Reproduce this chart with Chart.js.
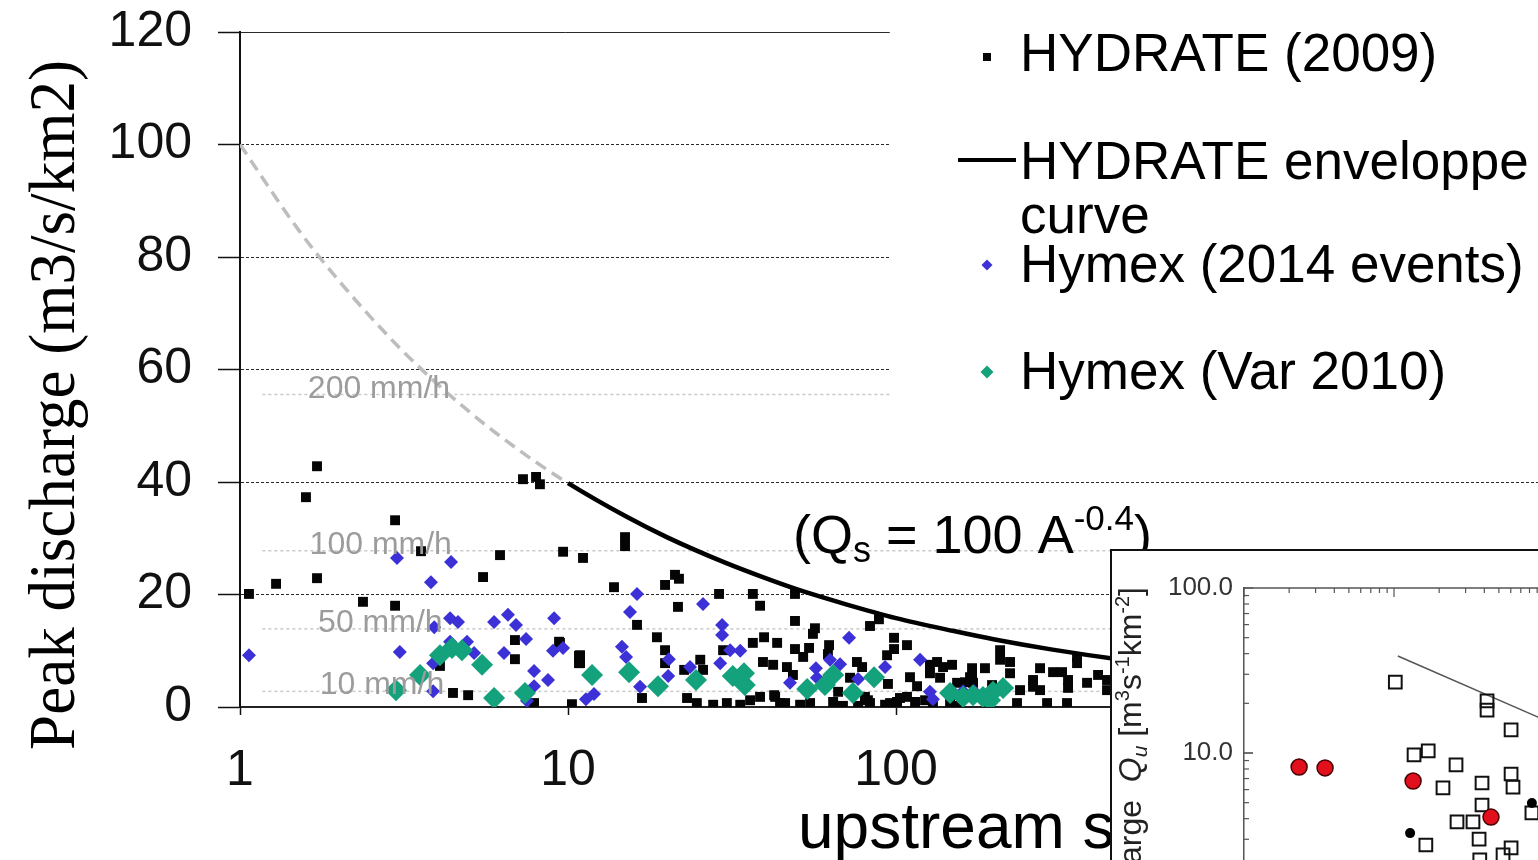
<!DOCTYPE html>
<html>
<head>
<meta charset="utf-8">
<script src="https://cdn.jsdelivr.net/npm/chart.js@4.4.1/dist/chart.umd.min.js"></script>
<style>
  html, body { margin: 0; padding: 0; background: #fff; overflow: hidden; width: 1538px; height: 860px; }
  #main { position: absolute; left: 0; top: 0; }
  #insetBox { position: absolute; left: 1110px; top: 549px; width: 460px; height: 400px;
              border: 2px solid #111; background: #fff; overflow: hidden; }
  #inset { position: absolute; left: 0; top: 0; }
</style>
</head>
<body>
<canvas id="main" width="1538" height="860"></canvas>
<div id="insetBox"><canvas id="inset" width="440" height="371"></canvas></div>
<script>
// ---- Axis ticks ----
const yTickValues = [0, 20, 40, 60, 80, 100, 120];
const yTickLabels = ['0', '20', '40', '60', '80', '100', '120'];
const xTickValues = [1, 10, 100, 1000];
const xTickLabels = ['1', '10', '100', '1000'];
const xMax = 9060;

// ---- HYDRATE (2009): upstream area (km2) and peak discharge (m3/s/km2) ----
const hydrateArea = [
  1.065, 1.288, 1.717, 1.589, 1.717, 2.371, 2.97, 2.97, 3.563, 5.507,
  6.204, 7.29, 7.99, 8.21, 9.66, 11.11, 4.07, 4.46, 4.96, 6.89,
  6.89, 7.88, 9.39, 10.28, 10.8, 10.8, 14.92, 14.92, 13.81, 19.76,
  21.19, 21.79, 28.87, 36.6, 49.2, 21.64, 38.5, 16.23, 49.2, 56.6,
  55.8, 83.3, 88.7, 18.67, 36.6, 43.4, 39.6, 9.45, 10.88, 10.88,
  19.76, 19.76, 29.7, 25.3, 25.8, 22.6, 39.3, 42.2, 46.5, 49.2,
  54.3, 62.5, 52.1, 62.0, 76.0, 78.8, 16.81, 23.06, 24.7, 27.7,
  30.5, 33.5, 35.9, 38.5, 42.8, 45.9, 51.0, 54.7, 64.3, 68.9,
  82.1, 98.6, 98.6, 108.0, 93.9, 72.4, 94.5, 110.3, 115.9, 126.9,
  133.4, 139.1, 148.2, 126.9, 48.5, 66.6, 42.5, 44.3, 76.6, 83.3,
  92.6, 100.7, 108.0, 114.3, 129.6, 146.1, 207.6, 207.6, 222.6, 356.3,
  356.3, 170.5, 186.7, 274.8, 301.1, 320.7, 222.6, 413.0, 136.2, 170.5,
  261.6, 274.8, 334.5, 334.5, 382.2, 439.8, 439.8, 238.8, 80.4, 102.8,
  122.6, 171.7, 196.2, 233.8, 288.7, 332.1, 95.9, 168.1, 261.6, 153.5,
  162.3, 153.5
];
const hydrateQ = [
  20.1, 21.9, 42.8, 37.3, 22.9, 18.7, 33.2, 18.0, 27.7, 23.1,
  27.0, 40.5, 40.9, 39.6, 27.6, 26.5, 7.3, 2.5, 2.1, 11.9,
  8.5, 0.7, 11.6, 0.5, 9.1, 7.8, 30.2, 28.6, 21.3, 21.7,
  23.5, 22.8, 20.1, 20.1, 20.1, 17.8, 18.0, 14.6, 15.3, 14.0,
  13.0, 14.4, 15.6, 12.4, 11.4, 11.4, 12.4, 11.4, 9.2, 7.8,
  10.1, 7.8, 10.1, 8.4, 6.6, 6.6, 8.0, 7.5, 7.1, 10.3,
  10.5, 11.0, 8.9, 9.4, 8.0, 7.1, 1.6, 1.6, 0.7, 0.4,
  0.7, 0.4, 1.2, 1.8, 1.8, 0.7, 0.4, 0.7, 0.9, 0.2,
  1.2, 12.3, 10.3, 11.0, 9.2, 5.2, 4.1, 5.3, 3.7, 7.5,
  8.0, 7.1, 7.5, 6.0, 5.7, 2.7, 2.1, 0.7, 0.2, 0.7,
  0.4, 0.9, 1.8, 0.9, 0.7, 0.7, 10.1, 8.4, 8.0, 8.9,
  7.8, 6.9, 6.9, 6.9, 6.2, 6.2, 6.0, 5.7, 5.2, 5.2,
  4.8, 3.0, 4.8, 3.4, 4.3, 4.8, 3.0, 3.0, 1.8, 1.6,
  1.2, 4.3, 3.9, 0.7, 0.7, 0.7, 0.7, 5.3, 3.6, 4.3,
  4.4, 0.2
];

// ---- Hymex (2014 events) ----
const hymex2014Area = [
  1.065, 3.01, 4.40, 3.82, 3.07, 3.91, 4.37, 4.62, 5.95, 6.56,
  6.94, 9.07, 7.45, 4.37, 4.92, 5.17, 6.38, 9.0, 9.66, 3.88,
  7.88, 8.69, 3.88, 7.88, 7.50, 11.34, 12.0, 16.23, 15.45, 25.8,
  29.5, 29.5, 14.6, 15.03, 20.3, 20.2, 31.2, 33.5, 23.55, 29.1,
  16.58, 47.5, 57.0, 62.9, 67.5, 57.4, 71.9, 76.6, 92.6, 118.4,
  126.9, 129.6, 160.1, 172.9
];
const hymex2014Q = [
  9.2, 26.5, 25.8, 22.2, 9.8, 14.2, 15.8, 15.1, 15.1, 16.4,
  14.6, 15.8, 12.1, 11.6, 11.6, 9.6, 9.6, 10.0, 10.5, 7.8,
  6.4, 4.8, 2.8, 3.7, 1.1, 1.4, 2.3, 20.1, 16.9, 18.3,
  14.6, 12.8, 10.7, 8.9, 8.5, 5.5, 10.1, 10.0, 7.1, 7.8,
  3.6, 4.3, 6.9, 8.4, 7.6, 5.2, 12.3, 5.0, 7.1, 8.4,
  2.7, 1.4, 2.8, 2.8
];

// ---- Hymex (Var 2010) ----
const var2010Area = [
  2.99, 3.54, 4.07, 4.43, 4.75, 5.47, 5.95, 7.39, 11.84, 15.35,
  18.81, 24.56, 31.8, 34.4, 34.6, 53.6, 60.7, 64.3, 73.9, 85.7,
  146.1, 160.1, 171.7, 184.1, 197.6, 212.0, 193.5
];
const var2010Q = [
  3.0, 5.7, 9.2, 10.5, 10.1, 7.5, 1.6, 2.5, 5.7, 6.2,
  3.7, 4.8, 5.5, 6.0, 3.9, 3.2, 3.9, 5.7, 2.5, 5.3,
  2.5, 1.8, 2.1, 1.8, 2.7, 3.4, 1.2
];

// ---- HYDRATE envelope curve, Qs = 100 A^-0.4 ----
const envelopeArea = [1, 1.5, 2, 3, 4, 5, 6, 7, 8, 10, 15, 20, 30, 40, 50, 70, 100, 150, 200, 300, 500, 700, 1000, 2000, 5000, 9000];
const envelopeQ    = [100, 85.0, 75.8, 64.4, 57.4, 52.5, 48.8, 45.9, 43.5, 39.8, 33.9, 30.2, 25.7, 22.9, 20.9, 18.3, 15.8, 13.5, 12.0, 10.2, 8.3, 7.3, 6.3, 4.8, 3.3, 2.6];

// ---- Rainfall-intensity reference lines (mm/h -> m3/s/km2 is /3.6) ----
const rainRates = [200, 100, 50, 10];
const rainLabels = ['200 mm/h', '100 mm/h', '50 mm/h', '10 mm/h'];
const rainLabelArea = [1.61, 1.63, 1.73, 1.75];
const rainLineStart = 1.17;

// ---- Inset panel (log-log) ----
const insetRedArea = [0.233, 0.347, 1.34, 4.43];
const insetRedQ    = [8.22, 8.12, 6.76, 4.09];
const insetDotArea = [1.28, 8.3];
const insetDotQ    = [3.27, 4.98];
const insetSquareArea = [1.02, 4.17, 4.17, 6.03, 1.36, 1.69, 2.59, 2.12, 3.86, 6.03,
                         6.21, 3.86, 8.3, 2.63, 3.36, 3.69, 1.63, 6.03, 5.33, 3.73];
const insetSquareQ    = [26.9, 20.7, 18.2, 13.8, 9.73, 10.3, 8.46, 6.14, 6.58, 7.46,
                         6.22, 4.84, 4.33, 3.82, 3.82, 3.01, 2.77, 2.66, 2.41, 2.25];
const insetLineArea = [1.06, 9.12];
const insetLineQ    = [38.7, 16.5];
const insetYTickValues = [10, 100];
const insetYTickLabels = ['10.0', '100.0'];

const pts = (xs, ys) => xs.map((x, i) => ({ x: x, y: ys[i] }));
const SANS = '"Liberation Sans", Arial, Helvetica, sans-serif';
const SERIF = '"Liberation Serif", "Times New Roman", serif';

const rainSets = rainRates.map((r, i) => ({
  label: rainLabels[i],
  type: 'line',
  data: [{ x: rainLineStart, y: r / 3.6 }, { x: xMax, y: r / 3.6 }],
  borderColor: '#c9c9c9',
  borderWidth: 1.5,
  borderDash: [3, 3],
  pointRadius: 0,
  order: 6
}));

const hydrateSet = {
  label: 'HYDRATE (2009)',
  data: pts(hydrateArea, hydrateQ),
  pointStyle: 'rect',
  pointRadius: 7,
  backgroundColor: '#050505',
  borderWidth: 0,
  order: 4
};
const envelopeSet = {
  label: 'HYDRATE enveloppe curve',
  type: 'line',
  data: pts(envelopeArea, envelopeQ),
  borderColor: '#000',
  borderWidth: 4.5,
  pointRadius: 0,
  cubicInterpolationMode: 'monotone',
  segment: {
    borderColor: c => (c.p1.parsed.x <= 10 ? '#bdbdbd' : '#000'),
    borderDash: c => (c.p1.parsed.x <= 10 ? [12, 7] : []),
    borderWidth: c => (c.p1.parsed.x <= 10 ? 3.5 : 4.5)
  },
  order: 3
};
const hymex2014Set = {
  label: 'Hymex (2014 events)',
  data: pts(hymex2014Area, hymex2014Q),
  pointStyle: 'rectRot',
  pointRadius: 7,
  backgroundColor: '#3b31d6',
  borderWidth: 0,
  order: 2
};
const var2010Set = {
  label: 'Hymex (Var 2010)',
  data: pts(var2010Area, var2010Q),
  pointStyle: 'rectRot',
  pointRadius: 11,
  backgroundColor: '#13a27c',
  borderWidth: 0,
  order: 1
};

// Keep the plot frame where the layout padding puts it (no extra room for end labels)
const noLabelPadding = ax => { ax.paddingTop = 0; ax.paddingBottom = 0; };

// Text overlays for the main panel: rainfall labels, formula, legend, axis titles
const mainDecorations = {
  id: 'mainDecorations',
  afterDraw(chart) {
    const ctx = chart.ctx;
    const xs = chart.scales.x, ys = chart.scales.y;
    ctx.save();

    // rainfall-intensity labels sitting on their lines
    ctx.fillStyle = '#9c9c9c';
    ctx.font = '32px ' + SANS;
    ctx.textAlign = 'left';
    ctx.textBaseline = 'alphabetic';
    rainRates.forEach((r, i) => {
      ctx.fillText(rainLabels[i], xs.getPixelForValue(rainLabelArea[i]), ys.getPixelForValue(r / 3.6) + 3);
    });

    // envelope formula
    ctx.fillStyle = '#000';
    let fx = 793;
    const fy = 553;
    const run = (t, size, dy) => {
      ctx.font = size + 'px ' + SANS;
      ctx.fillText(t, fx, fy + dy);
      fx += ctx.measureText(t).width;
    };
    run('(Q', 54, 0);
    run('s', 36, 9);
    run(' = 100 A', 54, 0);
    run('-0.4', 35, -23);
    run(')', 54, 0);

    // legend panel
    ctx.fillStyle = '#fff';
    ctx.fillRect(890, 0, 648, 440);
    ctx.fillStyle = '#000';
    ctx.font = '53px ' + SANS;
    ctx.textAlign = 'left';
    const tx = 1020;
    // HYDRATE (2009)
    ctx.fillStyle = hydrateSet.backgroundColor;
    ctx.fillRect(983, 53, 8, 8);
    ctx.fillStyle = '#000';
    ctx.fillText(hydrateSet.label, tx, 71);
    // envelope curve
    ctx.strokeStyle = '#000';
    ctx.lineWidth = 4;
    ctx.beginPath(); ctx.moveTo(958, 160); ctx.lineTo(1016, 160); ctx.stroke();
    ctx.fillText('HYDRATE enveloppe', tx, 179);
    ctx.fillText('curve', tx, 233);
    // Hymex diamonds
    const diamond = (cx, cy, h, color) => {
      ctx.fillStyle = color;
      ctx.beginPath();
      ctx.moveTo(cx, cy - h); ctx.lineTo(cx + h, cy); ctx.lineTo(cx, cy + h); ctx.lineTo(cx - h, cy);
      ctx.closePath(); ctx.fill();
    };
    diamond(987, 265, 5.5, hymex2014Set.backgroundColor);
    ctx.fillStyle = '#000';
    ctx.fillText(hymex2014Set.label, tx, 282);
    diamond(987, 372, 6.5, var2010Set.backgroundColor);
    ctx.fillStyle = '#000';
    ctx.fillText(var2010Set.label, tx, 389);

    // y-axis title (serif, rotated)
    ctx.save();
    ctx.translate(74, 405);
    ctx.rotate(-Math.PI / 2);
    ctx.font = '66px ' + SERIF;
    ctx.textAlign = 'center';
    const yTitle = 'Peak discharge (m3/s/km2)';
    const w = ctx.measureText(yTitle).width;
    ctx.scale(690 / w, 1);
    ctx.fillStyle = '#000';
    ctx.fillText(yTitle, 0, 0);
    ctx.restore();

    // x-axis title
    ctx.font = '64px ' + SANS;
    ctx.textAlign = 'left';
    ctx.fillStyle = '#000';
    ctx.fillText('upstream surface (km2)', 798, 848);

    ctx.restore();
  }
};

new Chart(document.getElementById('main'), {
  type: 'scatter',
  data: { datasets: [...rainSets, hydrateSet, envelopeSet, hymex2014Set, var2010Set] },
  options: {
    responsive: false,
    animation: false,
    devicePixelRatio: 1,
    layout: { autoPadding: false, padding: { top: 32, left: 0, right: 0, bottom: 0 } },
    plugins: { legend: { display: false }, tooltip: { enabled: false } },
    scales: {
      x: {
        type: 'logarithmic',
        min: 1,
        max: xMax,
        afterBuildTicks: ax => { ax.ticks = xTickValues.map(v => ({ value: v })); },
        afterFit: ax => { ax.height = 153; },
        ticks: {
          callback: (v, i) => xTickLabels[i],
          font: { family: SANS, size: 50 },
          color: '#111',
          padding: 26,
          maxRotation: 0,
          autoSkip: false
        },
        grid: { drawOnChartArea: false, tickLength: 8, tickColor: '#111', tickWidth: 1.5 },
        border: { color: '#222', width: 2 }
      },
      y: {
        min: 0,
        max: 120,
        afterBuildTicks: ax => { ax.ticks = yTickValues.map(v => ({ value: v })); },
        afterFit: ax => { ax.width = 240; noLabelPadding(ax); },
        ticks: {
          callback: (v, i) => yTickLabels[i],
          font: { family: SANS, size: 50 },
          color: '#111',
          padding: 26
        },
        grid: { color: '#2a2a2a', lineWidth: 1, tickLength: 22, tickColor: '#111', tickWidth: 1.5 },
        border: { color: '#111', width: 2, dash: c => (c.tick && c.tick.value === 120 ? [] : [3, 2]) }
      }
    }
  },
  plugins: [mainDecorations]
});

// ---- Inset panel ----
const insetDecorations = {
  id: 'insetDecorations',
  afterDraw(chart) {
    const ctx = chart.ctx;
    const a = chart.chartArea;
    const xs = chart.scales.x, ys = chart.scales.y;
    ctx.save();
    ctx.strokeStyle = '#555';
    ctx.lineWidth = 1.5;
    // top frame
    ctx.beginPath(); ctx.moveTo(a.left, a.top); ctx.lineTo(a.right, a.top); ctx.stroke();
    // inward ticks on the left frame
    ctx.lineWidth = 1.2;
    for (let e = 0; e < 2; e++) {
      for (let m = 1; m <= 10; m++) {
        const v = m * Math.pow(10, e);
        const y = ys.getPixelForValue(v);
        const len = (m === 1 || m === 10) ? 9 : 5;
        ctx.beginPath(); ctx.moveTo(a.left, y); ctx.lineTo(a.left + len, y); ctx.stroke();
      }
    }
    // inward ticks on the top frame
    for (let e = -1; e < 2; e++) {
      for (let m = 1; m <= 9; m++) {
        const v = m * Math.pow(10, e);
        if (v < xs.min || v > xs.max) continue;
        const x = xs.getPixelForValue(v);
        const len = m === 1 ? 9 : 5;
        ctx.beginPath(); ctx.moveTo(x, a.top); ctx.lineTo(x, a.top + len); ctx.stroke();
      }
    }
    // rotated y-axis title with italic symbol and exponents
    ctx.translate(29, 36);
    ctx.rotate(-Math.PI / 2);
    ctx.fillStyle = '#222';
    ctx.textBaseline = 'alphabetic';
    ctx.textAlign = 'left';
    const runs = [
      { t: 'Unit peak discharge  ', f: '32px ' + SANS, dy: 0 },
      { t: 'Q', f: 'italic 32px ' + SANS, dy: 0 },
      { t: 'u', f: 'italic 21px ' + SANS, dy: 6 },
      { t: ' [m', f: '32px ' + SANS, dy: 0 },
      { t: '3', f: '20px ' + SANS, dy: -12 },
      { t: 's', f: '32px ' + SANS, dy: 0 },
      { t: '-1', f: '20px ' + SANS, dy: -12 },
      { t: 'km', f: '32px ' + SANS, dy: 0 },
      { t: '-2', f: '20px ' + SANS, dy: -12 },
      { t: ']', f: '32px ' + SANS, dy: 0 }
    ];
    let total = 0;
    runs.forEach(r => { ctx.font = r.f; r.w = ctx.measureText(r.t).width; total += r.w; });
    let x = -total;
    runs.forEach(r => { ctx.font = r.f; ctx.fillText(r.t, x, r.dy); x += r.w; });
    ctx.restore();
  }
};

new Chart(document.getElementById('inset'), {
  type: 'scatter',
  data: {
    datasets: [
      { label: 'red', data: pts(insetRedArea, insetRedQ), pointStyle: 'circle', pointRadius: 8,
        backgroundColor: '#e2101c', borderColor: '#4a0000', borderWidth: 1.5, order: 1 },
      { label: 'dots', data: pts(insetDotArea, insetDotQ), pointStyle: 'circle', pointRadius: 5,
        backgroundColor: '#000', borderWidth: 0, order: 2 },
      { label: 'squares', data: pts(insetSquareArea, insetSquareQ), pointStyle: 'rect', pointRadius: 9,
        backgroundColor: 'rgba(255,255,255,0)', borderColor: '#111', borderWidth: 2, order: 3 },
      { label: 'envelope', type: 'line', data: pts(insetLineArea, insetLineQ), borderColor: '#555',
        borderWidth: 1.5, pointRadius: 0, order: 4 }
    ]
  },
  options: {
    responsive: false,
    animation: false,
    devicePixelRatio: 1,
    layout: { autoPadding: false, padding: { top: 37, left: 0, right: 0, bottom: 4 } },
    plugins: { legend: { display: false }, tooltip: { enabled: false } },
    scales: {
      x: { type: 'logarithmic', min: 0.1, max: 11.3, display: false },
      y: {
        type: 'logarithmic',
        min: 1,
        max: 100,
        afterBuildTicks: ax => { ax.ticks = insetYTickValues.map(v => ({ value: v })); },
        afterFit: ax => { ax.width = 132; noLabelPadding(ax); },
        ticks: {
          callback: (v, i) => insetYTickLabels[i],
          font: { family: SANS, size: 26 },
          color: '#333',
          padding: 11
        },
        grid: { drawOnChartArea: false, drawTicks: false },
        border: { color: '#555', width: 1.5 }
      }
    }
  },
  plugins: [insetDecorations]
});
</script>
</body>
</html>
